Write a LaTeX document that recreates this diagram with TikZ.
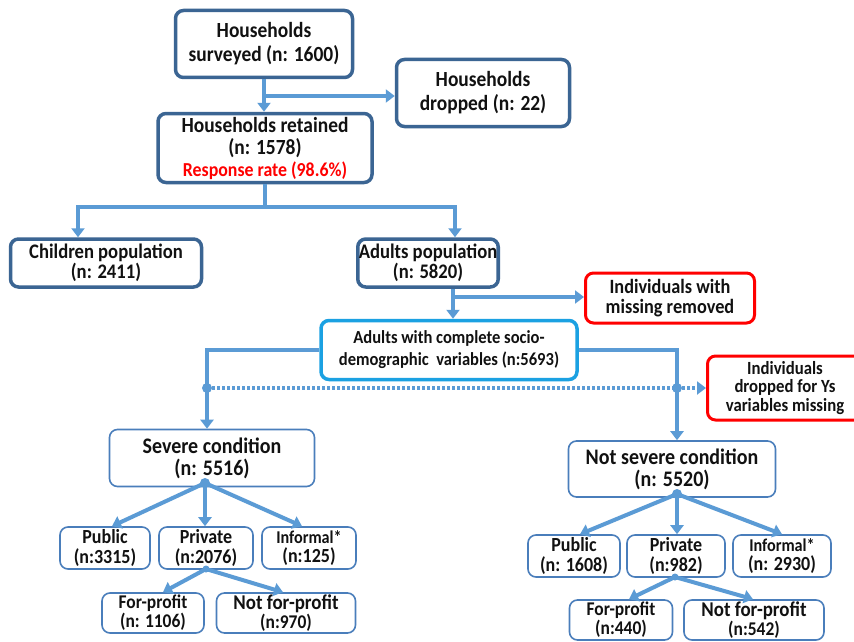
\documentclass[tikz,border=0pt]{standalone}
\usepackage{fontspec}
\setmainfont{Carlito}[FakeStretch=0.9]
\usetikzlibrary{arrows.meta,calc}
\definecolor{boxdark}{HTML}{3B6593}
\definecolor{arrowblue}{HTML}{5B9BD5}
\definecolor{thinblue}{HTML}{4A7EBB}
\definecolor{cyanblue}{HTML}{1BA1E2}
\definecolor{redb}{HTML}{FF0000}
\definecolor{txt}{HTML}{111111}
\begin{document}
\begin{tikzpicture}[x=1pt,y=-1pt,
  base/.style={rounded corners=8pt, align=center, inner sep=1pt, fill=white, text=txt},
  topbox/.style={base, draw=boxdark, line width=3.5pt},
  cyanbox/.style={base, draw=cyanblue, line width=3.5pt},
  redbox/.style={base, draw=redb, line width=3pt},
  thinbox/.style={base, draw=thinblue, line width=1.6pt},
  fA/.style={font=\fontsize{21.6}{24}\selectfont\bfseries},
  fR/.style={font=\fontsize{21.6}{22}\selectfont\bfseries},
  fB/.style={font=\fontsize{20.7}{20.5}\selectfont\bfseries},
  fC/.style={font=\fontsize{20.3}{19.5}\selectfont\bfseries},
  fD/.style={font=\fontsize{18.4}{22}\selectfont\bfseries},
  fY/.style={font=\fontsize{18.6}{18.5}\selectfont\bfseries},
  fE/.style={font=\fontsize{22.2}{22}\selectfont\bfseries},
  fF/.style={font=\fontsize{20}{19.5}\selectfont\bfseries},
  fG/.style={font=\fontsize{19.4}{19}\selectfont\bfseries},
  conn/.style={draw=arrowblue, line width=4pt},
  arr/.style={conn, -{Triangle[width=13pt,length=9pt]}},
  dotline/.style={draw=arrowblue, line width=4pt, dash pattern=on 3pt off 2pt},
  jdot/.style={fill=arrowblue, draw=none, circle, minimum size=10pt, inner sep=0pt}
]
\clip (0,0) rectangle (854,642);
\fill[white] (0,0) rectangle (854,642);

% nodes
\node[topbox, fA, minimum width=177pt, minimum height=67pt] (surv) at (264,44) {Households\\surveyed (n: 1600)};
\node[topbox, fA, minimum width=173pt, minimum height=67pt] (drop) at (483,93) {Households\\dropped (n: 22)};
\node[topbox, fR, minimum width=214pt, minimum height=69pt] (ret) at (265,148) {Households retained\\(n: 1578)\\{\color{redb}\fontsize{19.8}{20}\selectfont Response rate (98.6\%)}};
\node[topbox, fB, minimum width=191pt, minimum height=48pt] (child) at (106,263) {Children population\\(n: 2411)};
\node[topbox, fB, minimum width=131pt, minimum height=48pt] (adult) at (428,263) {Adults population\\(n: 5820)};
\node[redbox, fC, minimum width=169pt, minimum height=50pt] (miss) at (670,298) {Individuals with\\missing removed};
\node[cyanbox, fD, minimum width=256pt, minimum height=59pt] (comp) at (449,350) {Adults with complete socio-\\demographic\ \ variables (n:5693)};
\node[redbox, fY, minimum width=155pt, minimum height=64pt] (ydrop) at (785,388) {Individuals\\dropped for Ys\\variables missing};

\node[thinbox, fE, minimum width=205pt, minimum height=57pt] (sev) at (212,458) {Severe condition\\(n: 5516)};
\node[thinbox, fF, minimum width=90pt, minimum height=42pt] (pub1) at (105,548) {Public\\(n:3315)};
\node[thinbox, fF, minimum width=94pt, minimum height=42pt] (pri1) at (206,548) {Private\\(n:2076)};
\node[thinbox, fF, minimum width=94pt, minimum height=42pt] (inf1) at (309,548) {{\fontsize{18}{17}\selectfont Informal*}\\(n:125)};
\node[thinbox, fG, minimum width=102pt, minimum height=40pt] (fp1) at (153,613) {For-profit\\(n: 1106)};
\node[thinbox, fG, minimum width=139pt, minimum height=40pt] (nfp1) at (286,613) {{\fontsize{21}{19}\selectfont Not for-profit}\\(n:970)};

\node[thinbox, fE, minimum width=207pt, minimum height=56pt] (nsev) at (672,469) {Not severe condition\\(n: 5520)};
\node[thinbox, fF, minimum width=92pt, minimum height=42pt] (pub2) at (574,556) {Public\\(n: 1608)};
\node[thinbox, fF, minimum width=98pt, minimum height=42pt] (pri2) at (676,556) {Private\\(n:982)};
\node[thinbox, fF, minimum width=98pt, minimum height=42pt] (inf2) at (782,556) {{\fontsize{18}{17}\selectfont Informal*}\\(n: 2930)};
\node[thinbox, fG, minimum width=103pt, minimum height=40pt] (fp2) at (621,620) {For-profit\\(n:440)};
\node[thinbox, fG, minimum width=140pt, minimum height=40pt] (nfp2) at (754,620) {{\fontsize{21}{19}\selectfont Not for-profit}\\(n:542)};

% junction coordinates
\coordinate (a) at (264,96);
\coordinate (j) at (265,207);
\coordinate (jL) at (78,207);
\coordinate (jR) at (455,207);
\coordinate (k) at (453,297);
\coordinate (dl) at (207,388);
\coordinate (dr) at (677,388);

% connectors top
\draw[arr] (surv.south) -- (surv.south |- ret.north);
\draw[arr] (a) -- (a -| drop.west);
\draw[conn] (ret.south) -- (j);
\draw[arr] (j) -- (jL) -- (jL |- child.north);
\draw[arr] (j) -- (jR) -- (jR |- adult.north);
\draw[arr] (k |- adult.south) -- (k |- comp.north);
\draw[arr] (k) -- (k -| miss.west);
\draw[arr] (comp.west) -- (comp.west -| dl) -- (dl |- sev.north);
\draw[arr] (comp.east) -- (comp.east -| dr) -- (dr |- nsev.north);
\draw[dotline] (dl) -- (dr);
\draw[dotline, -{Triangle[width=13pt,length=9pt]}] (dr) -- (dr -| ydrop.west);
\node[jdot] (dld) at (dl) {};
\node[jdot] (drd) at (dr) {};

% severe branch
\node[jdot] (s1) at (205,483) {};
\draw[arr] (s1.center) -- ($(pub1.north)+(7,0)$);
\draw[arr] (s1.center) -- (s1.center |- pri1.north);
\draw[arr] (s1.center) -- ($(inf1.north)+(-7,0)$);
\node[jdot, minimum size=7pt] (s2) at (206,569) {};
\draw[arr] (s2.center) -- ($(fp1.north)+(10,0)$);
\draw[arr] (s2.center) -- ($(nfp1.north)+(-3,0)$);

% not severe branch
\node[jdot] (n1) at (677,494) {};
\draw[arr] (n1.center) -- ($(pub2.north)+(6,0)$);
\draw[arr] (n1.center) -- (n1.center |- pri2.north);
\draw[arr] (n1.center) -- (inf2.north);
\node[jdot, minimum size=7pt] (n2) at (675,577) {};
\draw[arr] (n2.center) -- ($(fp2.north)+(8,0)$);
\draw[arr] (n2.center) -- ($(nfp2.north)+(-1,0)$);
\end{tikzpicture}
\end{document}
